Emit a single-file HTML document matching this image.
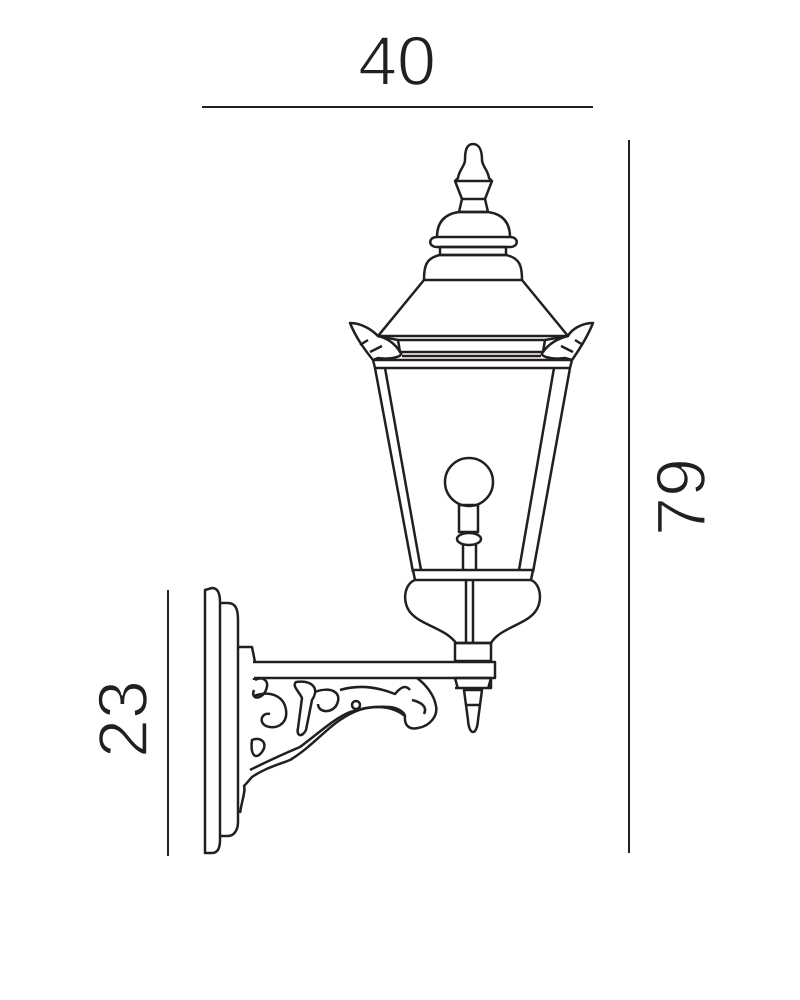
<!DOCTYPE html>
<html><head><meta charset="utf-8"><style>
html,body{margin:0;padding:0;background:#fff;}
svg{display:block;}
text{font-family:"Liberation Sans",sans-serif;fill:#231f20;stroke:#fff;stroke-width:1.6;}
</style></head><body>
<svg width="800" height="1000" viewBox="0 0 800 1000" xmlns="http://www.w3.org/2000/svg">
<g stroke="#231f20" stroke-width="2" fill="none">
<line x1="202" y1="107" x2="593" y2="107"/>
<line x1="629" y1="140" x2="629" y2="853"/>
<line x1="168" y1="590" x2="168" y2="856"/>
</g>
<text x="397" y="85" font-size="70" text-anchor="middle">40</text>
<text transform="translate(705,497) rotate(-90)" font-size="70" text-anchor="middle">79</text>
<text transform="translate(147,719) rotate(-90)" font-size="70" text-anchor="middle">23</text>

<g stroke="#231f20" stroke-width="2.5" fill="none" stroke-linejoin="round">
<!-- finial -->
<path d="M473,144 C466,144 465,152 465,160 C465,166 459,170 458,178 L455,181 L492,181 L489,178 C488,170 482,166 482,160 C482,152 480,144 473,144 Z"/>
<path d="M455,181 L462,199 L485,199 L492,181"/>
<path d="M462,199 L459,212 L488,212 L485,199"/>
<!-- dome -->
<path d="M459,212 C445,214 437,222 437,237 L510,237 C510,222 502,214 488,212 Z"/>
<path d="M437,237 C428,237 428,247 437,247 L510,247 C519,247 519,237 510,237"/>
<rect x="440" y="247" width="66" height="8"/>
<path d="M440,255 C426,258 424,266 424,280 L522,280 C522,266 520,258 506,255 Z"/>
<!-- roof -->
<path d="M424,280 L378,336 L568,336 L522,280"/>
<path d="M398,340 L545,340 L543,352 L400,352 Z"/>
<path d="M378,336 L398,340 M568,336 L545,340"/>
<path d="M402,356 L541,356"/>
<!-- leaves -->
<path d="M350,323 C362,323 372,330 378,336 C386,338 394,342 400,352 C405,356 392,360 378,358 L373,360 C365,350 356,338 350,323 Z"/>
<path d="M360,345 L368,340 M370,352 L382,346"/>
<path d="M593,323 C581,323 571,330 568,336 C560,338 550,342 543,352 C538,356 551,360 565,358 L572,360 C579,350 587,338 593,323 Z"/>
<path d="M583,345 L575,340 M573,352 L561,346"/>
<!-- top bar -->
<path d="M373,360 L572,360 L570,368 L375,368 Z"/>
<!-- body -->
<path d="M375,368 L413,572 M385,368 L421,570"/>
<path d="M570,368 L533,572 M554,368 L519,570"/>
<path d="M413,570 L533,570 L531,580 L415,580 Z"/>
<!-- bulb -->
<circle cx="469" cy="482" r="24"/>
<rect x="459" y="505" width="19" height="27"/>
<ellipse cx="469" cy="539" rx="12" ry="6"/>
<path d="M463,545 L463,570 M476,545 L476,570"/>
<!-- bowl -->
<path d="M415,580 C404,584 402,602 410,612 C420,625 445,628 456,643 L491,643 C500,628 525,625 535,612 C543,602 541,584 531,580"/>
<path d="M466,580 L466,643 M473,580 L473,643"/>
<!-- collar & arm -->
<rect x="455" y="643" width="36" height="18"/>
<path d="M253,662 L495,662 L495,678 L254,678"/>
<path d="M455,678 L491,678 L491,688 L455,688"/>
<path d="M458,689 L455,678 M488,689 L491,678"/>
<path d="M464,690 L482,690 L478,720 C477,736 469,736 468,720 Z"/>
<path d="M467,705 L479,705"/>
<!-- back plate -->
<path d="M205,590 L212,588 C218,588 220,594 220,602 L220,840 C220,848 218,853 212,853 L205,853 Z"/>
<path d="M220,603 L228,603 C236,603 238,610 238,620 L238,822 C238,830 234,836 228,836 L220,836"/>
<path d="M238,647 L252,647 L255,662"/>
<!-- bracket -->
<path d="M254,678 L254,680"/>
<path d="M240,813 C242,800 246,790 244,786 C248,782 250,779 252,777 C265,768 280,764 290,760 C310,748 325,730 340,720 C355,710 366,707 377,707 C392,707 400,712 405,716 C404,726 410,730 418,728 C430,726 438,716 436,706 C434,694 425,684 417,678"/>
<path d="M250,770 C270,760 288,752 300,747 C320,732 335,718 350,712 C362,708 375,706 390,707"/>
<path d="M390,707 C398,708 404,712 405,716"/>
<path d="M255,680 C262,676 270,680 266,690 C262,700 250,700 254,690"/>
<path d="M254,696 C270,690 284,696 286,710 C288,724 276,730 266,726 C258,722 262,712 270,714"/>
<path d="M252,740 C262,736 268,744 262,752 C256,760 250,756 252,740 Z"/>
<path d="M296,682 C312,680 320,688 312,700 L306,730 C302,738 296,736 298,728 L302,698 C298,690 292,686 296,682 Z"/>
<path d="M315,692 C330,686 344,692 336,706 C330,714 318,712 318,704"/>
<circle cx="356" cy="705" r="4"/>
<path d="M340,690 C360,684 380,688 395,694 C400,688 405,684 410,690"/>
<path d="M412,700 C420,702 428,706 424,714"/>
</g>
</svg>
</body></html>
